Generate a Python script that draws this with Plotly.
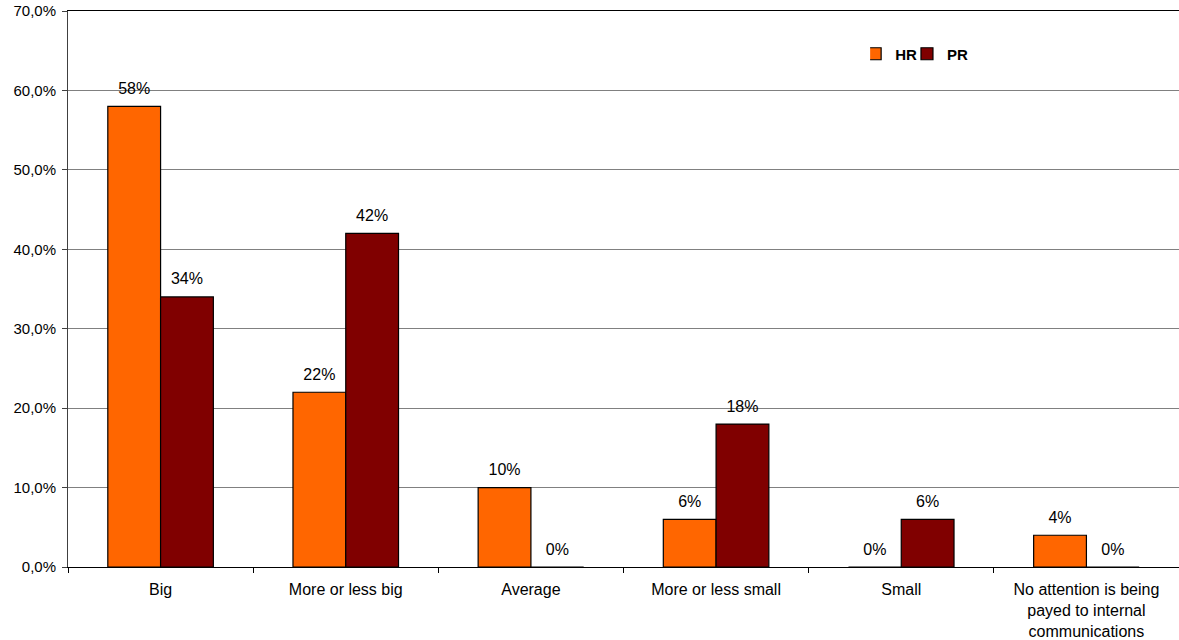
import plotly.graph_objects as go

categories = ["Big", "More or less big", "Average", "More or less small", "Small",
              "No attention is being<br>payed to internal<br>communications"]
hr_values = [58, 22, 10, 6, 0, 4]
pr_values = [34, 42, 0, 18, 6, 0]
y_tickvals = [0, 10, 20, 30, 40, 50, 60, 70]
y_ticktext = ["0,0%", "10,0%", "20,0%", "30,0%", "40,0%", "50,0%", "60,0%", "70,0%"]

FAM = "Liberation Sans, Arial, sans-serif"
font = dict(family=FAM, size=16, color="#000000")

fig = go.Figure()
for name, vals, col in [("HR", hr_values, "#FF6600"), ("PR", pr_values, "#800000")]:
    fig.add_trace(go.Bar(
        name=name, x=categories, y=vals, offsetgroup=name,
        marker=dict(color=col, line=dict(color="#000000", width=1.2)),
    ))
for name, vals in [("HR", hr_values), ("PR", pr_values)]:
    fig.add_trace(go.Scatter(
        x=categories, y=vals, mode="markers+text", offsetgroup=name,
        marker=dict(size=12, opacity=0),
        text=[f"{v}%" for v in vals], textposition="top center",
        textfont=font, cliponaxis=False, showlegend=False, hoverinfo="skip",
    ))

fig.update_layout(
    width=1179, height=640,
    margin=dict(l=68, r=0, t=11, b=73),
    paper_bgcolor="white", plot_bgcolor="white",
    font=font,
    barmode="group", bargap=0.43, bargroupgap=0,
    scattermode="group", scattergap=0.43,
    showlegend=True,
    legend=dict(orientation="h", x=0.722, y=0.9227, xanchor="left", yanchor="middle",
                font=dict(family=FAM, size=15, color="#000000", weight="bold"),
                itemwidth=30, tracegroupgap=0, bgcolor="rgba(0,0,0,0)",
                indentation=-15),
)
fig.update_xaxes(
    type="category", showline=True, linecolor="#000000", linewidth=1, mirror=True,
    ticks="outside", tickson="boundaries", ticklen=5, tickcolor="#000000",
    showgrid=False, tickfont=font, ticklabelstandoff=8,
)
fig.update_yaxes(
    range=[0, 70], tickvals=y_tickvals, ticktext=y_ticktext,
    showline=True, linecolor="#404040", linewidth=1,
    ticks="outside", ticklen=5, tickcolor="#404040",
    showgrid=True, gridcolor="#808080", gridwidth=1,
    zeroline=False, tickfont=dict(family=FAM, size=15, color="#000000"),
    ticklabelstandoff=3,
)

fig.write_html("out.html")
